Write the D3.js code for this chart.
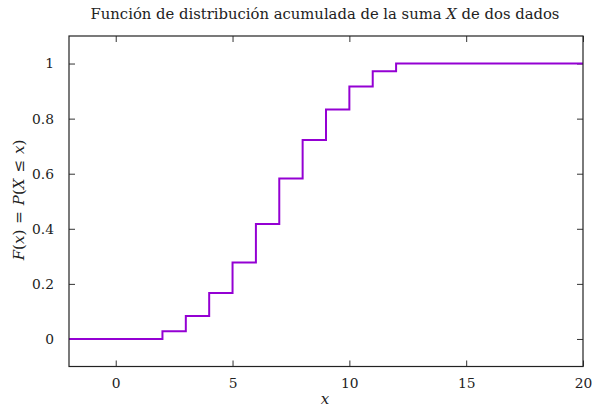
<!DOCTYPE html>
<html><head><meta charset="utf-8">
<script src="https://cdn.jsdelivr.net/npm/d3@7"></script>
<style>body{margin:0;background:#fff}svg{display:block}text{font-family:"DejaVu Serif",serif;fill:#222}</style>
</head><body>
<script>
const stepX = [2,3,4,5,6,7,8,9,10,11,12];
const cdfValues = [0.028,0.083,0.167,0.278,0.417,0.583,0.722,0.833,0.917,0.972,1.0];
const xTicks = [0,5,10,15,20];
const yTicks = [0,0.2,0.4,0.6,0.8,1];
const xDomain = [-2,20], yDomain = [-0.1,1.1];

const W=593,H=409, L=69,R=583,T=36,B=366.5;
const svg=d3.select("body").append("svg").attr("width",W).attr("height",H);
const x=d3.scaleLinear().domain(xDomain).range([L,R]);
const y=d3.scaleLinear().domain(yDomain).range([B,T]);

const pts=[[xDomain[0],0]];
stepX.forEach((s,i)=>{pts.push([s,i===0?0:cdfValues[i-1]]);pts.push([s,cdfValues[i]]);});
pts.push([xDomain[1],1]);

const tl=6;
const g=svg.append("g");
const ax=(sel,axis)=>{sel.call(axis);sel.select(".domain").remove();sel.selectAll("line").attr("stroke","#333");sel.selectAll("text").style("font-size","13.8px").attr("fill","#222");};
g.append("g").attr("transform",`translate(0,${B})`).call(s=>ax(s,d3.axisBottom(x).tickValues(xTicks).tickSize(-tl).tickPadding(12).tickFormat(d3.format("d"))));
g.append("g").attr("transform",`translate(0,${T})`).call(s=>ax(s,d3.axisTop(x).tickValues(xTicks).tickSize(-tl).tickFormat("")));
g.append("g").attr("transform",`translate(${L},0)`).call(s=>ax(s,d3.axisLeft(y).tickValues(yTicks).tickSize(-tl).tickPadding(15).tickFormat(d=>d3.format("")(+d.toFixed(1)))));
g.append("g").attr("transform",`translate(${R},0)`).call(s=>ax(s,d3.axisRight(y).tickValues(yTicks).tickSize(-tl).tickFormat("")));

svg.append("defs").append("clipPath").attr("id","c").append("rect").attr("x",L).attr("y",T).attr("width",R-L).attr("height",B-T);
svg.append("path").datum(pts).attr("clip-path","url(#c)").attr("fill","none").attr("stroke","#9400d3").attr("stroke-width",2)
 .attr("d",d3.line().x(d=>x(d[0])).y(d=>y(d[1])));

svg.append("rect").attr("x",L).attr("y",T).attr("width",R-L).attr("height",B-T).attr("fill","none").attr("stroke","#222").attr("stroke-width",1.2);

const title=svg.append("text").attr("x",325).attr("y",19).attr("text-anchor","middle").style("font-size","14.8px");
title.append("tspan").text("Función de distribución acumulada de la suma ");
title.append("tspan").attr("font-style","italic").text("X");
title.append("tspan").text(" de dos dados");

svg.append("text").attr("x",325).attr("y",404).attr("text-anchor","middle").attr("font-style","italic").style("font-size","15px").text("x");

const yl=svg.append("text").attr("transform",`translate(24,200) rotate(-90)`).attr("text-anchor","middle").style("font-size","15px");
yl.append("tspan").attr("font-style","italic").text("F");
yl.append("tspan").text("(");
yl.append("tspan").attr("font-style","italic").text("x");
yl.append("tspan").text(")");
yl.append("tspan").attr("dx",6).text("=");
yl.append("tspan").attr("dx",6).attr("font-style","italic").text("P");
yl.append("tspan").text("(");
yl.append("tspan").attr("font-style","italic").text("X");
yl.append("tspan").attr("dx",6).text("≤");
yl.append("tspan").attr("dx",6).attr("font-style","italic").text("x");
yl.append("tspan").text(")");
</script>
</body></html>
